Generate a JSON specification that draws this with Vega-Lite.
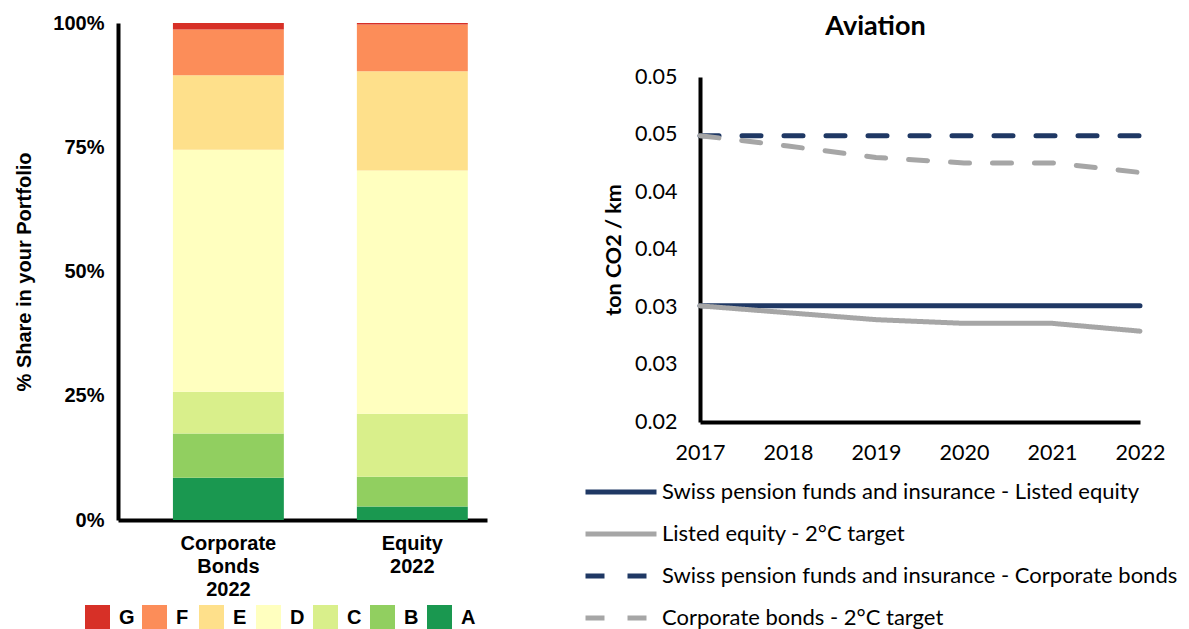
{
  "$schema": "https://vega.github.io/schema/vega-lite/v6.json",
  "padding": {"left": 14, "top": 13, "right": 5, "bottom": 0},
  "spacing": 96,
  "config": {"view": {"stroke": null}, "background": "white"},
  "resolve": {
    "scale": {"color": "independent", "strokeDash": "independent"},
    "legend": {"color": "independent", "strokeDash": "independent"}
  },
  "hconcat": [
    {
      "width": 369,
      "height": 497,
      "data": {"values": [
        {"portfolio": "Corporate Bonds 2022", "grade": "A", "share": 8.5},
        {"portfolio": "Corporate Bonds 2022", "grade": "B", "share": 8.9},
        {"portfolio": "Corporate Bonds 2022", "grade": "C", "share": 8.4},
        {"portfolio": "Corporate Bonds 2022", "grade": "D", "share": 48.7},
        {"portfolio": "Corporate Bonds 2022", "grade": "E", "share": 15.0},
        {"portfolio": "Corporate Bonds 2022", "grade": "F", "share": 9.2},
        {"portfolio": "Corporate Bonds 2022", "grade": "G", "share": 1.3},
        {"portfolio": "Equity 2022", "grade": "A", "share": 2.7},
        {"portfolio": "Equity 2022", "grade": "B", "share": 6.0},
        {"portfolio": "Equity 2022", "grade": "C", "share": 12.7},
        {"portfolio": "Equity 2022", "grade": "D", "share": 48.9},
        {"portfolio": "Equity 2022", "grade": "E", "share": 20.0},
        {"portfolio": "Equity 2022", "grade": "F", "share": 9.4},
        {"portfolio": "Equity 2022", "grade": "G", "share": 0.3}
      ]},
      "mark": {"type": "bar"},
      "encoding": {
        "x": {
          "field": "portfolio", "type": "nominal", "sort": null,
          "scale": {"paddingInner": 0.397, "paddingOuter": 0.2015, "align": 0.741},
          "axis": {
            "title": null, "labelAngle": 0, "labelExpr": "split(datum.value, ' ')",
            "labelFont": "Liberation Sans", "labelFontWeight": "bold", "labelFontSize": 20,
            "labelColor": "#000", "labelLineHeight": 23, "labelPadding": 13,
            "ticks": false, "tickSize": 0, "domainColor": "#000", "domainWidth": 4
          }
        },
        "y": {
          "field": "share", "type": "quantitative", "stack": "zero",
          "scale": {"domain": [0, 100], "nice": false},
          "axis": {
            "values": [0, 25, 50, 75, 100], "labelExpr": "datum.value + '%'",
            "title": "% Share in your Portfolio", "titleFont": "Liberation Sans",
            "titleFontWeight": "bold", "titleFontSize": 20, "titleColor": "#000", "titlePadding": 18,
            "labelFont": "Liberation Sans", "labelFontWeight": "bold", "labelFontSize": 20,
            "labelColor": "#000", "labelPadding": 14, "ticks": false, "tickSize": 0, "grid": false,
            "domainColor": "#000", "domainWidth": 4
          }
        },
        "color": {
          "field": "grade", "type": "nominal",
          "scale": {"domain": ["G", "F", "E", "D", "C", "B", "A"],
                    "range": ["#d73027", "#fc8d59", "#fee08b", "#ffffbf", "#d9ef8b", "#91cf60", "#1a9850"]},
          "legend": {
            "title": null, "orient": "none", "legendX": -33, "legendY": 582,
            "direction": "horizontal", "columns": 7, "gridAlign": "all", "columnPadding": 7,
            "symbolType": "square", "symbolSize": 625, "symbolStrokeWidth": 0, "symbolOpacity": 1,
            "labelFont": "Liberation Sans", "labelFontWeight": "bold", "labelFontSize": 20,
            "labelColor": "#000", "labelOffset": 9, "padding": 0
          }
        },
        "order": {"field": "grade", "sort": "ascending"}
      }
    },
    {
      "width": 440,
      "height": 399,
      "title": {"text": "Aviation", "font": "Lato", "fontSize": 27, "fontWeight": "bold", "color": "#000",
                "anchor": "middle", "frame": "bounds", "offset": -18, "dx": -5},
      "data": {"values": [
        {"year": 2017, "series": "Swiss pension funds and insurance - Listed equity", "value": 0.0301},
        {"year": 2018, "series": "Swiss pension funds and insurance - Listed equity", "value": 0.0301},
        {"year": 2019, "series": "Swiss pension funds and insurance - Listed equity", "value": 0.0301},
        {"year": 2020, "series": "Swiss pension funds and insurance - Listed equity", "value": 0.0301},
        {"year": 2021, "series": "Swiss pension funds and insurance - Listed equity", "value": 0.0301},
        {"year": 2022, "series": "Swiss pension funds and insurance - Listed equity", "value": 0.0301},
        {"year": 2017, "series": "Listed equity - 2°C target", "value": 0.0301},
        {"year": 2018, "series": "Listed equity - 2°C target", "value": 0.0295},
        {"year": 2019, "series": "Listed equity - 2°C target", "value": 0.0289},
        {"year": 2020, "series": "Listed equity - 2°C target", "value": 0.02858},
        {"year": 2021, "series": "Listed equity - 2°C target", "value": 0.02858},
        {"year": 2022, "series": "Listed equity - 2°C target", "value": 0.0279},
        {"year": 2017, "series": "Swiss pension funds and insurance - Corporate bonds", "value": 0.0449},
        {"year": 2018, "series": "Swiss pension funds and insurance - Corporate bonds", "value": 0.0449},
        {"year": 2019, "series": "Swiss pension funds and insurance - Corporate bonds", "value": 0.0449},
        {"year": 2020, "series": "Swiss pension funds and insurance - Corporate bonds", "value": 0.0449},
        {"year": 2021, "series": "Swiss pension funds and insurance - Corporate bonds", "value": 0.0449},
        {"year": 2022, "series": "Swiss pension funds and insurance - Corporate bonds", "value": 0.0449},
        {"year": 2017, "series": "Corporate bonds - 2°C target", "value": 0.0449},
        {"year": 2018, "series": "Corporate bonds - 2°C target", "value": 0.0440},
        {"year": 2019, "series": "Corporate bonds - 2°C target", "value": 0.0430},
        {"year": 2020, "series": "Corporate bonds - 2°C target", "value": 0.04253},
        {"year": 2021, "series": "Corporate bonds - 2°C target", "value": 0.04253},
        {"year": 2022, "series": "Corporate bonds - 2°C target", "value": 0.0417}
      ]},
      "mark": {"type": "line", "strokeWidth": 5, "strokeCap": "round", "strokeJoin": "round"},
      "encoding": {
        "x": {
          "field": "year", "type": "quantitative",
          "scale": {"domain": [2017, 2022], "nice": false, "zero": false},
          "axis": {
            "values": [2017, 2018, 2019, 2020, 2021, 2022], "format": "d", "title": null,
            "grid": false, "ticks": false, "tickSize": 0, "labelPadding": 20, "labelFlush": false,
            "labelFont": "Lato", "labelFontSize": 21.5, "labelColor": "#000",
            "domainColor": "#000", "domainWidth": 4
          }
        },
        "y": {
          "field": "value", "type": "quantitative",
          "scale": {"domain": [0.02, 0.05], "nice": false, "zero": false, "range": [399, 54]},
          "axis": {
            "values": [0.02, 0.025, 0.03, 0.035, 0.04, 0.045, 0.05],
            "labelExpr": "format(datum.value + 0.0001, '.2f')",
            "title": "ton CO2 / km", "titleFont": "Lato", "titleFontWeight": "bold", "titleFontSize": 21.5,
            "titleColor": "#000", "titlePadding": 9, "titleY": 226.5,
            "grid": false, "ticks": false, "tickSize": 0, "labelPadding": 23,
            "labelFont": "Lato", "labelFontSize": 21.5, "labelColor": "#000",
            "domainColor": "#000", "domainWidth": 4
          }
        },
        "color": {
          "field": "series", "type": "nominal",
          "scale": {
            "domain": ["Swiss pension funds and insurance - Listed equity", "Listed equity - 2°C target", "Swiss pension funds and insurance - Corporate bonds", "Corporate bonds - 2°C target"],
            "range": ["#1f3864", "#a6a6a6", "#1f3864", "#a6a6a6"]
          },
          "legend": {
            "title": null, "orient": "none", "legendX": -117, "legendY": 454, "direction": "vertical",
            "symbolType": "stroke", "symbolSize": 5041, "symbolStrokeWidth": 5, "clipHeight": 30,
            "labelFont": "Lato", "labelFontSize": 22, "labelColor": "#000", "labelLimit": 700,
            "labelOffset": 3, "rowPadding": 12, "padding": 0
          }
        },
        "strokeDash": {
          "field": "series", "type": "nominal",
          "scale": {
            "domain": ["Swiss pension funds and insurance - Listed equity", "Listed equity - 2°C target", "Swiss pension funds and insurance - Corporate bonds", "Corporate bonds - 2°C target"],
            "range": [[1, 0], [1, 0], [19, 23], [19, 23]]
          },
          "legend": {
            "title": null, "orient": "none", "legendX": -117, "legendY": 454, "direction": "vertical",
            "symbolType": "stroke", "symbolSize": 5041, "symbolStrokeWidth": 5, "clipHeight": 30,
            "labelFont": "Lato", "labelFontSize": 22, "labelColor": "#000", "labelLimit": 700,
            "labelOffset": 3, "rowPadding": 12, "padding": 0
          }
        }
      }
    }
  ]
}
